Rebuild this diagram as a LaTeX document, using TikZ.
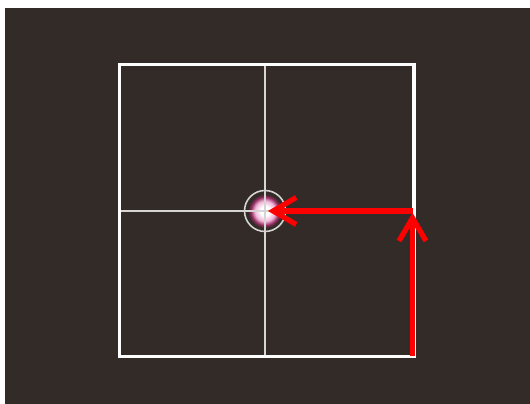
\documentclass[tikz,border=0pt]{standalone}
\usetikzlibrary{arrows.meta}
\definecolor{bgdark}{RGB}{50,43,40}
\definecolor{spotpink}{RGB}{242,180,215}
\definecolor{spotrim}{RGB}{140,40,90}
\definecolor{trackred}{RGB}{255,0,0}
\tikzset{
  frame/.style={draw=white,line width=2.2pt},
  hair/.style={draw=white!80!bgdark,line width=0.7pt},
  reticle/.style={draw=white!80!bgdark,line width=0.9pt},
  track/.style={-{Straight Barb[length=0.46cm,width=0.54cm]},draw=trackred,line width=3pt}
}
\pgfdeclareradialshading{spotglow}{\pgfpoint{0bp}{0bp}}{color(0bp)=(white); color(7bp)=(white); color(15bp)=(spotpink); color(21bp)=(spotrim); color(25bp)=(bgdark); color(50bp)=(bgdark)}
\begin{document}
\begin{tikzpicture}[x=0.02cm,y=-0.02cm]
  \fill[white] (0,0) rectangle (530,404);
  \fill[bgdark] (5,8) rectangle (530,404);
  % target window
  \coordinate (nw) at (119.5,64.5);
  \coordinate (se) at (414,356.5);
  \coordinate (spot) at (265,211);
  \shade[shading=spotglow] (spot) circle (17);
  \draw[hair] (spot |- nw) -- (spot |- se);
  \draw[hair] (spot -| nw) -- (spot -| se);
  \draw[frame] (nw) rectangle (se);
  \draw[reticle] (spot) circle (20.5);
  % correction path
  \coordinate (corner) at (412.5,356.5);
  \coordinate (bend) at (412.5,211);
  \draw[track] (corner) -- ([yshift=-1pt]bend);
  \draw[track] (bend) -- ([xshift=1.7pt]spot);
\end{tikzpicture}
\end{document}
